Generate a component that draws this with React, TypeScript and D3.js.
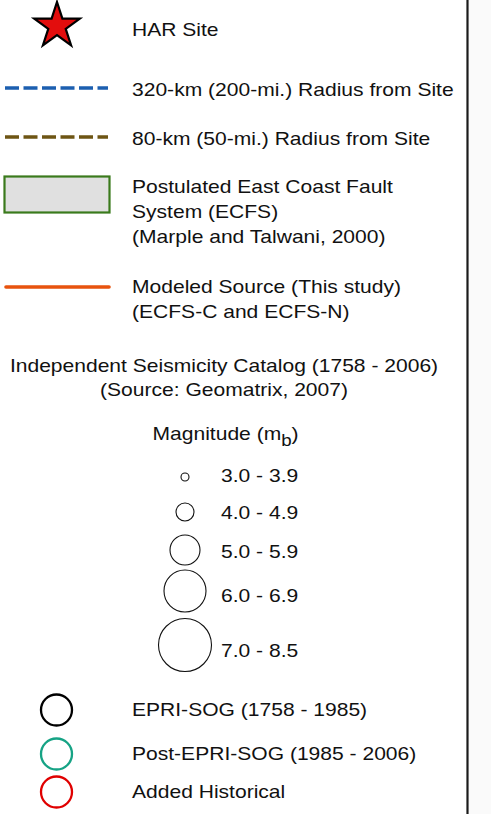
import React from "react";
import * as d3 from "d3";

const W = 491;
const H = 814;

const siteLabel = "HAR Site";
const lineItems = [
  { label: "320-km (200-mi.) Radius from Site", color: "#1c5fb0", dash: "14,4.5", y: 88 },
  { label: "80-km (50-mi.) Radius from Site", color: "#6e5514", dash: "14,4.5", y: 137 },
];
const faultLabel = ["Postulated East Coast Fault", "System (ECFS)", "(Marple and Talwani, 2000)"];
const sourceLabel = ["Modeled Source (This study)", "(ECFS-C and ECFS-N)"];
const catalogTitle = ["Independent Seismicity Catalog (1758 - 2006)", "(Source: Geomatrix, 2007)"];
const magClasses = ["3.0 - 3.9", "4.0 - 4.9", "5.0 - 5.9", "6.0 - 6.9", "7.0 - 8.5"];
const magRadii = [4, 9, 15, 21, 26.5];
const magCenters = [477, 512, 550, 591, 645];
const magLabelBaselines = [482, 519, 558, 602, 657];
const catalogs = ["EPRI-SOG (1758 - 1985)", "Post-EPRI-SOG (1985 - 2006)", "Added Historical"];
const catalogColors = ["#000000", "#16a385", "#e00000"];
const catalogCenters = [710, 754, 792];

const FONT = "'Liberation Sans', Arial, sans-serif";
const FS = 18;
const SX = 1.17;

function T({ x, y, anchor, children }: { x: number; y: number; anchor?: string; children: React.ReactNode }) {
  return (
    <g transform={`translate(${x},${y}) scale(${SX},1)`}>
      <text x={0} y={0} textAnchor={anchor ?? "start"}>{children}</text>
    </g>
  );
}

export default function App() {
  const starPath = d3.symbol().type(d3.symbolStar).size((24 * 24) / 0.8908130915292852)();
  const textX = 132;
  return (
    <svg width={W} height={H} style={{ position: "absolute", left: 0, top: 0, background: "#fff" }}
      fontFamily={FONT} fontSize={FS} fill="#111">
      <rect x={0} y={0} width={W} height={H} fill="#fff" />
      <rect x={469} y={0} width={W - 469} height={H} fill="#fafafa" />
      <line x1={467.5} x2={467.5} y1={0} y2={H} stroke="#1a1a1a" strokeWidth={2.2} />

      <path d={starPath ?? ""} transform="translate(57,26)" fill="#e30d0d" stroke="#000" strokeWidth={2.2} strokeLinejoin="miter" />
      <T x={textX} y={36}>{siteLabel}</T>

      {lineItems.map((d) => (
        <g key={d.label}>
          <line x1={5} x2={108} y1={d.y} y2={d.y} stroke={d.color} strokeWidth={3.6} strokeDasharray={d.dash} />
          <T x={textX} y={d.y + 8}>{d.label}</T>
        </g>
      ))}

      <rect x={4.5} y={176.5} width={105} height={36} fill="#e0e0e0" stroke="#3a7a1c" strokeWidth={2.2} />
      {faultLabel.map((t, i) => (
        <T key={t} x={textX} y={193 + i * 25}>{t}</T>
      ))}

      <line x1={6} x2={109} y1={287} y2={287} stroke="#e8530e" strokeWidth={3.6} strokeLinecap="round" />
      {sourceLabel.map((t, i) => (
        <T key={t} x={textX} y={293 + i * 24.5}>{t}</T>
      ))}

      {catalogTitle.map((t, i) => (
        <T key={t} x={224} y={372 + i * 24} anchor="middle">{t}</T>
      ))}

      <T x={152.5} y={440}>
        Magnitude (m<tspan dy={6} fontSize={16}>b</tspan><tspan dy={-6}>)</tspan>
      </T>

      {magClasses.map((t, i) => (
        <g key={t}>
          <circle cx={185} cy={magCenters[i]} r={magRadii[i]} fill="none" stroke="#111" strokeWidth={1.1} />
          <T x={221} y={magLabelBaselines[i]}>{t}</T>
        </g>
      ))}

      {catalogs.map((t, i) => (
        <g key={t}>
          <circle cx={56.5} cy={catalogCenters[i]} r={15.5} fill="none" stroke={catalogColors[i]} strokeWidth={2.3} />
          <T x={textX} y={catalogCenters[i] + 6}>{t}</T>
        </g>
      ))}
    </svg>
  );
}
